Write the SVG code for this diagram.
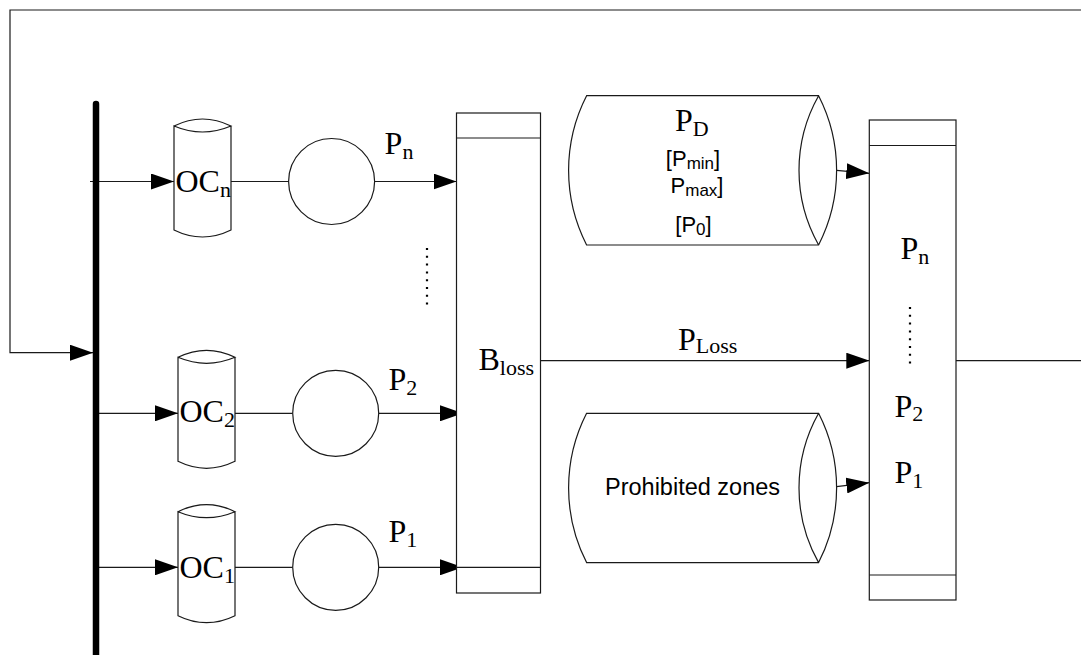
<svg xmlns="http://www.w3.org/2000/svg" width="1081" height="655" viewBox="0 0 1081 655">
<style>
.ln{fill:none;stroke:#1a1a1a;stroke-width:1.2}
.shp{fill:#fff;stroke:#1a1a1a;stroke-width:1.2}
.ser{font-family:"Liberation Serif","Times New Roman",serif;fill:#000;font-size:32px}
.sub{font-size:22px}
.san{font-family:"Liberation Sans",Arial,sans-serif;fill:#000}
.dots{fill:none;stroke:#000;stroke-width:2.2;stroke-dasharray:2 5.8}
</style>
<defs>
<marker id="ah" viewBox="0 0 23 16" refX="23" refY="8" markerWidth="23" markerHeight="16" markerUnits="userSpaceOnUse" orient="auto">
<path d="M0,0 L23,8 L0,16 Z" fill="#000"/>
</marker>
<path id="vcyl" d="M0,0 Q28.5,-14 57,0 Q28.5,12 0,0 V104 Q28.5,118 57,104 V0"/>
<path id="hcyl" d="M586.6,0 H818.6 A163.8,163.8 0 0 1 818.6,149.3 H586.6 A163.8,163.8 0 0 1 586.6,0 Z M818.6,0 A152,152 0 0 0 818.6,149.3"/>
</defs>

<g id="connectors">
<polyline class="ln" points="1081,10 10,10 10,352.7 93,352.7" marker-end="url(#ah)"/>
<line class="ln" x1="956" y1="360.7" x2="1081" y2="360.7"/>
<line class="ln" x1="90" y1="181.5" x2="174" y2="181.5" marker-end="url(#ah)"/>
<line class="ln" x1="231" y1="181.5" x2="288.6" y2="181.5"/>
<line class="ln" x1="374.6" y1="181.5" x2="456.5" y2="181.5" marker-end="url(#ah)"/>
<line class="ln" x1="98" y1="413.3" x2="178" y2="413.3" marker-end="url(#ah)"/>
<line class="ln" x1="235" y1="413.3" x2="292.7" y2="413.3"/>
<line class="ln" x1="378.7" y1="413.3" x2="463" y2="413.3" marker-end="url(#ah)"/>
<line class="ln" x1="98" y1="567.3" x2="178" y2="567.3" marker-end="url(#ah)"/>
<line class="ln" x1="235" y1="567.3" x2="292.7" y2="567.3"/>
<line class="ln" x1="378.7" y1="567.3" x2="463" y2="567.3" marker-end="url(#ah)"/>
<line class="ln" x1="540.5" y1="360.7" x2="869.3" y2="360.7" marker-end="url(#ah)"/>
<line class="ln" x1="836.6" y1="170.3" x2="869.3" y2="173.3" marker-end="url(#ah)"/>
<line class="ln" x1="836.6" y1="486.7" x2="869.3" y2="482.7" marker-end="url(#ah)"/>
</g>

<g id="bus">
<line x1="96" y1="104" x2="96" y2="660" stroke="#000" stroke-width="6.5" stroke-linecap="round"/>
</g>

<g id="oc-n">
<use href="#vcyl" class="shp" transform="translate(174,126)"/>
<text class="ser" x="175.5" y="192">OC<tspan class="sub" dy="5">n</tspan></text>
</g>
<g id="oc-2">
<use href="#vcyl" class="shp" transform="translate(178,357.3)"/>
<text class="ser" x="179.5" y="422">OC<tspan class="sub" dy="5">2</tspan></text>
</g>
<g id="oc-1">
<use href="#vcyl" class="shp" transform="translate(178,511.7)"/>
<text class="ser" x="179.5" y="577.5">OC<tspan class="sub" dy="5">1</tspan></text>
</g>

<g id="gen-n"><circle class="shp" cx="331.6" cy="181.5" r="43"/></g>
<g id="gen-2"><circle class="shp" cx="335.7" cy="413.3" r="43"/></g>
<g id="gen-1"><circle class="shp" cx="335.7" cy="567.3" r="43"/></g>

<g id="labels-p">
<text class="ser" x="384.6" y="154">P<tspan class="sub" dy="5">n</tspan></text>
<text class="ser" x="388.4" y="390">P<tspan class="sub" dy="5">2</tspan></text>
<text class="ser" x="388.4" y="541.7">P<tspan class="sub" dy="5">1</tspan></text>
<line class="dots" x1="427" y1="248" x2="427" y2="305"/>
</g>

<g id="bloss">
<rect class="shp" x="456.5" y="113" width="84" height="480"/>
<line class="ln" x1="456.5" y1="138" x2="540.5" y2="138"/>
<line class="ln" x1="456.5" y1="567.3" x2="540.5" y2="567.3"/>
<text class="ser" x="478.5" y="370">B<tspan class="sub" dy="5">loss</tspan></text>
</g>

<g id="ploss-label">
<text class="ser" x="678" y="350">P<tspan class="sub" dy="3">Loss</tspan></text>
</g>

<g id="pd">
<use href="#hcyl" class="shp" transform="translate(0,95.7)"/>
<text class="ser" x="675" y="131">P<tspan class="sub" dy="5">D</tspan></text>
<text class="san" x="693" y="165.5" text-anchor="middle" font-size="22">[P<tspan font-size="17" dy="3">min</tspan><tspan dy="-3">]</tspan></text>
<text class="san" x="697" y="192.5" text-anchor="middle" font-size="22">P<tspan font-size="17" dy="3">max</tspan><tspan dy="-3">]</tspan></text>
<text class="san" x="693.5" y="232" text-anchor="middle" font-size="22">[P<tspan font-size="17" dy="3">0</tspan><tspan dy="-3">]</tspan></text>
</g>

<g id="prohibited">
<use href="#hcyl" class="shp" transform="translate(0,413.3)"/>
<text class="san" x="605" y="495" font-size="23.5">Prohibited zones</text>
</g>

<g id="result">
<rect class="shp" x="869.3" y="120" width="86.7" height="480"/>
<line class="ln" x1="869.3" y1="145.5" x2="956" y2="145.5"/>
<line class="ln" x1="869.3" y1="575" x2="956" y2="575"/>
<text class="ser" x="900.5" y="258.5">P<tspan class="sub" dy="5">n</tspan></text>
<line class="dots" x1="910" y1="307" x2="910" y2="364"/>
<text class="ser" x="894.5" y="417">P<tspan class="sub" dy="4">2</tspan></text>
<text class="ser" x="894.5" y="482.5">P<tspan class="sub" dy="5">1</tspan></text>
</g>
</svg>
